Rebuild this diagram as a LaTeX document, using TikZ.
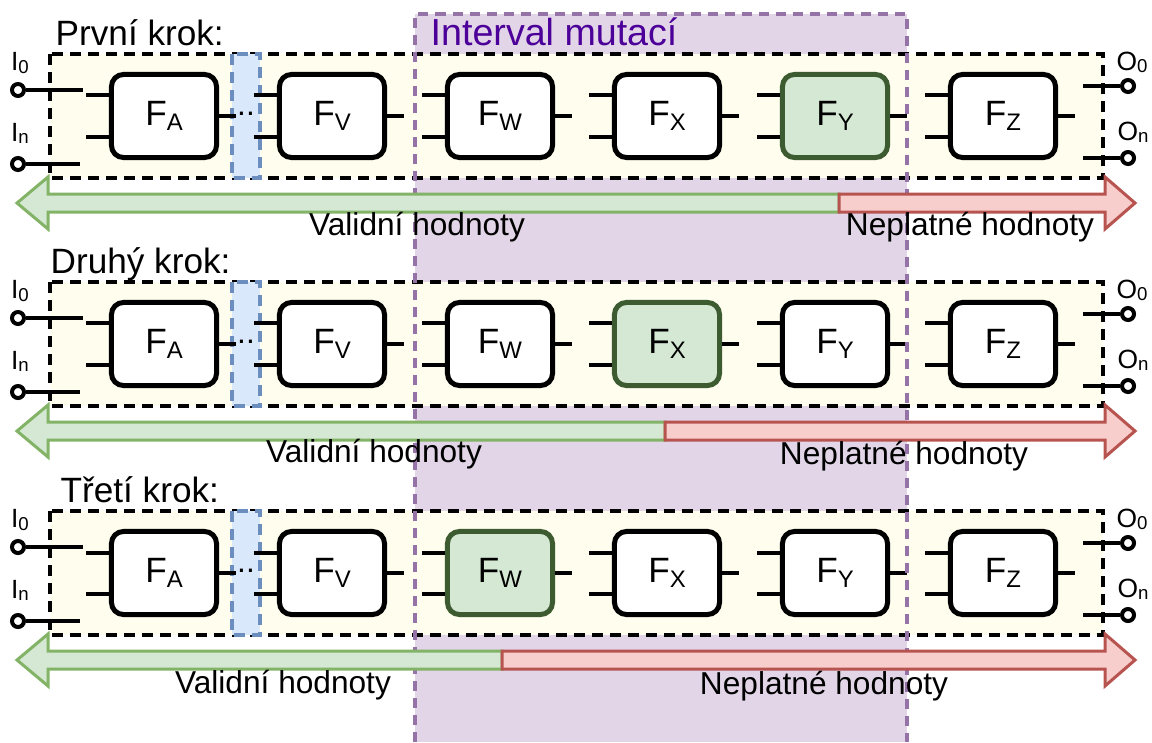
\documentclass[tikz,border=0pt]{standalone}
\usepackage{fontspec}
\setmainfont{Liberation Sans}
\usepackage{xcolor}
\usepackage{tikz}

\definecolor{rowfill}{HTML}{FFFDEE}
\definecolor{mutfill}{HTML}{E1D5E7}
\definecolor{mutdraw}{HTML}{9673A6}
\definecolor{muttext}{HTML}{4C0099}
\definecolor{dotfill}{HTML}{DAE8FC}
\definecolor{dotdraw}{HTML}{6C8EBF}
\definecolor{validfill}{HTML}{D5E8D4}
\definecolor{validdraw}{HTML}{82B366}
\definecolor{badfill}{HTML}{F8CECC}
\definecolor{baddraw}{HTML}{B85450}
\definecolor{hidraw}{HTML}{3D5B30}

\newcommand{\blocksub}[1]{\raisebox{-1.4pt}{\fontsize{6.8pt}{7pt}\selectfont #1}}
\newcommand{\pinsub}[1]{\raisebox{-0.6pt}{\fontsize{5.3pt}{6pt}\selectfont #1}}

\tikzset{
  fblock/.style={rounded corners=0.12cm, line width=0.05cm, minimum width=1.05cm,
    minimum height=0.83cm, inner sep=0pt, font=\fontsize{10pt}{12pt}\selectfont},
  stub/.style={line width=0.04cm},
  pin/.style={circle, draw, fill=white, line width=0.04cm, minimum size=0.12cm, inner sep=0pt},
  pinlabel/.style={inner sep=0pt, font=\fontsize{7.5pt}{8pt}\selectfont},
  rowbox/.style={draw, fill=rowfill, line width=0.04cm, dash pattern=on 0.11cm off 0.07cm},
  dotbox/.style={draw=dotdraw, fill=dotfill, line width=0.035cm, dash pattern=on 0.11cm off 0.07cm},
  mutline/.style={draw=mutdraw, line width=0.035cm, dash pattern=on 0.1cm off 0.07cm},
  steplabel/.style={anchor=base west, inner sep=0pt, font=\fontsize{10pt}{12pt}\selectfont},
  rangelabel/.style={anchor=base, inner sep=0pt, font=\fontsize{9pt}{11pt}\selectfont},
  validarrow/.style={fill=validfill, draw=validdraw, line width=0.03cm},
  badarrow/.style={fill=badfill, draw=baddraw, line width=0.03cm}
}

\begin{document}
\begin{tikzpicture}[x=0.01cm, y=-0.01cm]
\useasboundingbox (0,0) rectangle (1152,742);
\fill[mutfill] (415,14) rectangle (907,742);

% the three steps
\foreach \t/\hl/\sx/\name [count=\r] in {54/5/55/První krok:, 282/4/50/Druhý krok:, 511/3/60/Třetí krok:} {
    \node[steplabel] (step\r) at (\sx,\t-9) {\name};
    \filldraw[rowbox] (50,\t) rectangle (1103,\t+124);
    \filldraw[dotbox] (232,\t) rectangle (260,\t+124);
    \node[anchor=base, inner sep=0pt, font=\fontsize{9pt}{11pt}\selectfont] (dots\r) at (246,\t+61) {..};

    \foreach \f/\x [count=\i] in {A/164,V/332,W/500,X/667,Y/835,Z/1003} {
        \ifnum\i=\hl \def\bfill{validfill}\def\bdraw{hidraw}\else \def\bfill{white}\def\bdraw{black}\fi
        \node[fblock, fill=\bfill, draw=\bdraw] (f\r\f) at (\x,\t+62) {F\blocksub{\f}};
        \draw[stub] ([yshift=2.05mm]f\r\f.west) -- ++(-23,0);
        \draw[stub] ([yshift=-2.05mm]f\r\f.west) -- ++(-23,0);
        \draw[stub] (f\r\f.east) -- ++(17,0);
    }

    \node[pin] (in0\r) at (18,\t+36) {};
    \node[pin] (inn\r) at (18,\t+110) {};
    \node[pin] (out0\r) at (1128,\t+32) {};
    \node[pin] (outn\r) at (1128,\t+104) {};
    \draw[stub] (in0\r) -- ++(65,0);
    \draw[stub] (inn\r) -- ++(62,0);
    \draw[stub] (out0\r) -- ++(-45,0);
    \draw[stub] (outn\r) -- ++(-45,0);

    \node[pinlabel] (lin0\r) at (20,\t+9) {I\pinsub{0}};
    \node[pinlabel] (linn\r) at (20,\t+79) {I\pinsub{n}};
    \node[pinlabel] (lout0\r) at (1132,\t+8) {O\pinsub{0}};
    \node[pinlabel] (loutn\r) at (1133,\t+78) {O\pinsub{n}};
}

\draw[mutline] (415,742) -- (415,14) -- (907,14) -- (907,742);
\node[anchor=base west, inner sep=0pt, text=muttext, font=\fontsize{10.7pt}{13pt}\selectfont] (mutlabel) at (430,45) {Interval mutací};

% valid and invalid ranges
\foreach \t/\b/\vx/\nx/\vy/\ny [count=\r] in {54/839/417/970/181/181, 282/665/374/904/180/182, 511/502/283/824/182/183} {
    \filldraw[validarrow] (\b,\t+140) -- (48,\t+140) -- (48,\t+123) -- (17,\t+149)
        -- (48,\t+175) -- (48,\t+158) -- (\b,\t+158) -- cycle;
    \filldraw[badarrow] (\b,\t+140) -- (1105,\t+140) -- (1105,\t+123) -- (1135,\t+149)
        -- (1105,\t+175) -- (1105,\t+158) -- (\b,\t+158) -- cycle;
    \node[rangelabel] (valid\r) at (\vx,\t+\vy) {Validní hodnoty};
    \node[rangelabel] (invalid\r) at (\nx,\t+\ny) {Neplatné hodnoty};
}

\end{tikzpicture}
\end{document}
